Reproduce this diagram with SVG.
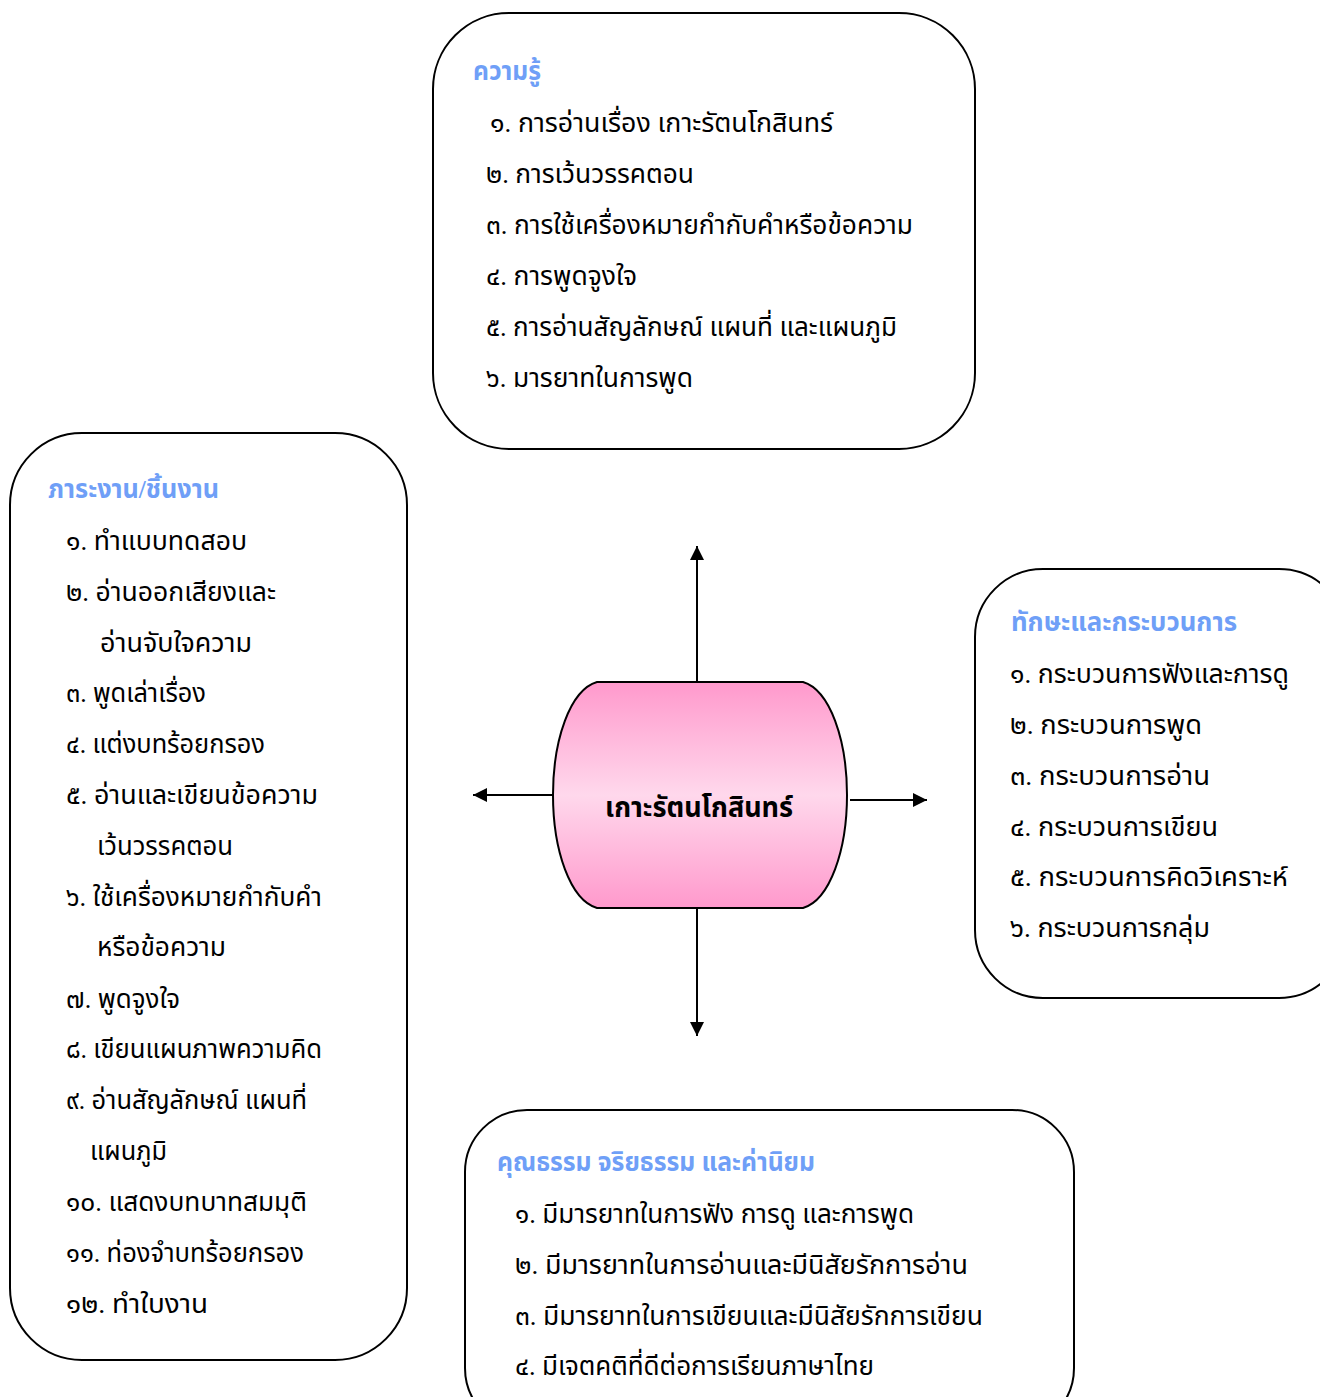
<svg xmlns="http://www.w3.org/2000/svg" width="1320" height="1397" viewBox="0 0 1320 1397">
<defs>
<style>
.box{fill:#fff;stroke:#000;stroke-width:2}
.h{font-family:"Liberation Serif","Noto Sans Thai","DejaVu Serif",serif;font-size:26px;font-weight:bold;fill:#6f9ff7}
.t{font-family:"Liberation Serif","Noto Sans Thai","DejaVu Serif",serif;font-size:26px;fill:#000}
.c{font-family:"Liberation Serif","Noto Sans Thai","DejaVu Serif",serif;font-size:28px;font-weight:bold;fill:#000}
.ln{stroke:#000;stroke-width:2;fill:none}
</style>
<linearGradient id="pink" x1="0" y1="0" x2="0" y2="1">
<stop offset="0" stop-color="#ff99cc"/>
<stop offset="0.5" stop-color="#ffd8ec"/>
<stop offset="1" stop-color="#ff99cc"/>
</linearGradient>
<marker id="ah" viewBox="0 0 10 10" refX="10" refY="5" markerWidth="14" markerHeight="14" markerUnits="userSpaceOnUse" orient="auto">
<path d="M0,0 L10,5 L0,10 Z" fill="#000"/>
</marker>
</defs>

<g id="connectors">
<line class="ln" x1="697" y1="682" x2="697" y2="546" marker-end="url(#ah)"/>
<line class="ln" x1="553" y1="795" x2="473" y2="795" marker-end="url(#ah)"/>
<line class="ln" x1="850" y1="800" x2="927" y2="800" marker-end="url(#ah)"/>
<line class="ln" x1="697" y1="908" x2="697" y2="1036" marker-end="url(#ah)"/>
</g>

<g id="center">
<path d="M597,682 H803 C830,690 847,740 847,795 C847,850 830,900 803,908 H597 C570,900 553,850 553,795 C553,740 570,690 597,682 Z" fill="url(#pink)" stroke="#000" stroke-width="2"/>
<text class="c" x="605" y="817" textLength="188" lengthAdjust="spacingAndGlyphs">เกาะรัตนโกสินทร์</text>
</g>

<g id="knowledge">
<rect class="box" x="433" y="13" width="542" height="436" rx="76" ry="76"/>
<text class="h" x="473" y="80" textLength="68" lengthAdjust="spacingAndGlyphs">ความรู้</text>
<text class="t" x="490" y="132" textLength="343" lengthAdjust="spacingAndGlyphs">๑. การอ่านเรื่อง เกาะรัตนโกสินทร์</text>
<text class="t" x="486" y="183" textLength="208" lengthAdjust="spacingAndGlyphs">๒. การเว้นวรรคตอน</text>
<text class="t" x="486" y="234" textLength="427" lengthAdjust="spacingAndGlyphs">๓. การใช้เครื่องหมายกำกับคำหรือข้อความ</text>
<text class="t" x="486" y="285" textLength="151" lengthAdjust="spacingAndGlyphs">๔. การพูดจูงใจ</text>
<text class="t" x="486" y="336" textLength="411" lengthAdjust="spacingAndGlyphs">๕. การอ่านสัญลักษณ์ แผนที่ และแผนภูมิ</text>
<text class="t" x="486" y="387" textLength="207" lengthAdjust="spacingAndGlyphs">๖. มารยาทในการพูด</text>
</g>

<g id="tasks">
<rect class="box" x="10" y="433" width="397" height="927" rx="72" ry="72"/>
<text class="h" x="48" y="498" textLength="171" lengthAdjust="spacingAndGlyphs">ภาระงาน/ชิ้นงาน</text>
<text class="t" x="66" y="550" textLength="181" lengthAdjust="spacingAndGlyphs">๑. ทำแบบทดสอบ</text>
<text class="t" x="66" y="601" textLength="210" lengthAdjust="spacingAndGlyphs">๒. อ่านออกเสียงและ</text>
<text class="t" x="100" y="652" textLength="152" lengthAdjust="spacingAndGlyphs">อ่านจับใจความ</text>
<text class="t" x="66" y="702" textLength="140" lengthAdjust="spacingAndGlyphs">๓. พูดเล่าเรื่อง</text>
<text class="t" x="66" y="753" textLength="199" lengthAdjust="spacingAndGlyphs">๔. แต่งบทร้อยกรอง</text>
<text class="t" x="66" y="804" textLength="252" lengthAdjust="spacingAndGlyphs">๕. อ่านและเขียนข้อความ</text>
<text class="t" x="97" y="855" textLength="136" lengthAdjust="spacingAndGlyphs">เว้นวรรคตอน</text>
<text class="t" x="66" y="906" textLength="256" lengthAdjust="spacingAndGlyphs">๖. ใช้เครื่องหมายกำกับคำ</text>
<text class="t" x="97" y="956" textLength="129" lengthAdjust="spacingAndGlyphs">หรือข้อความ</text>
<text class="t" x="66" y="1008" textLength="114" lengthAdjust="spacingAndGlyphs">๗. พูดจูงใจ</text>
<text class="t" x="66" y="1058" textLength="256" lengthAdjust="spacingAndGlyphs">๘. เขียนแผนภาพความคิด</text>
<text class="t" x="66" y="1109" textLength="241" lengthAdjust="spacingAndGlyphs">๙. อ่านสัญลักษณ์ แผนที่</text>
<text class="t" x="90" y="1160" textLength="77" lengthAdjust="spacingAndGlyphs">แผนภูมิ</text>
<text class="t" x="66" y="1211" textLength="241" lengthAdjust="spacingAndGlyphs">๑๐. แสดงบทบาทสมมุติ</text>
<text class="t" x="66" y="1262" textLength="238" lengthAdjust="spacingAndGlyphs">๑๑. ท่องจำบทร้อยกรอง</text>
<text class="t" x="66" y="1313" textLength="142" lengthAdjust="spacingAndGlyphs">๑๒. ทำใบงาน</text>
</g>

<g id="skills">
<rect class="box" x="975" y="569" width="372" height="429" rx="68" ry="68"/>
<text class="h" x="1011" y="631" textLength="226" lengthAdjust="spacingAndGlyphs">ทักษะและกระบวนการ</text>
<text class="t" x="1010" y="683" textLength="279" lengthAdjust="spacingAndGlyphs">๑. กระบวนการฟังและการดู</text>
<text class="t" x="1010" y="734" textLength="192" lengthAdjust="spacingAndGlyphs">๒. กระบวนการพูด</text>
<text class="t" x="1010" y="785" textLength="200" lengthAdjust="spacingAndGlyphs">๓. กระบวนการอ่าน</text>
<text class="t" x="1010" y="836" textLength="208" lengthAdjust="spacingAndGlyphs">๔. กระบวนการเขียน</text>
<text class="t" x="1010" y="886" textLength="278" lengthAdjust="spacingAndGlyphs">๕. กระบวนการคิดวิเคราะห์</text>
<text class="t" x="1010" y="937" textLength="200" lengthAdjust="spacingAndGlyphs">๖. กระบวนการกลุ่ม</text>
</g>

<g id="values">
<rect class="box" x="465" y="1110" width="609" height="320" rx="62" ry="62"/>
<text class="h" x="497" y="1171" textLength="318" lengthAdjust="spacingAndGlyphs">คุณธรรม จริยธรรม และค่านิยม</text>
<text class="t" x="515" y="1223" textLength="399" lengthAdjust="spacingAndGlyphs">๑. มีมารยาทในการฟัง การดู และการพูด</text>
<text class="t" x="515" y="1274" textLength="453" lengthAdjust="spacingAndGlyphs">๒. มีมารยาทในการอ่านและมีนิสัยรักการอ่าน</text>
<text class="t" x="515" y="1325" textLength="468" lengthAdjust="spacingAndGlyphs">๓. มีมารยาทในการเขียนและมีนิสัยรักการเขียน</text>
<text class="t" x="515" y="1375" textLength="359" lengthAdjust="spacingAndGlyphs">๔. มีเจตคติที่ดีต่อการเรียนภาษาไทย</text>
</g>
</svg>
